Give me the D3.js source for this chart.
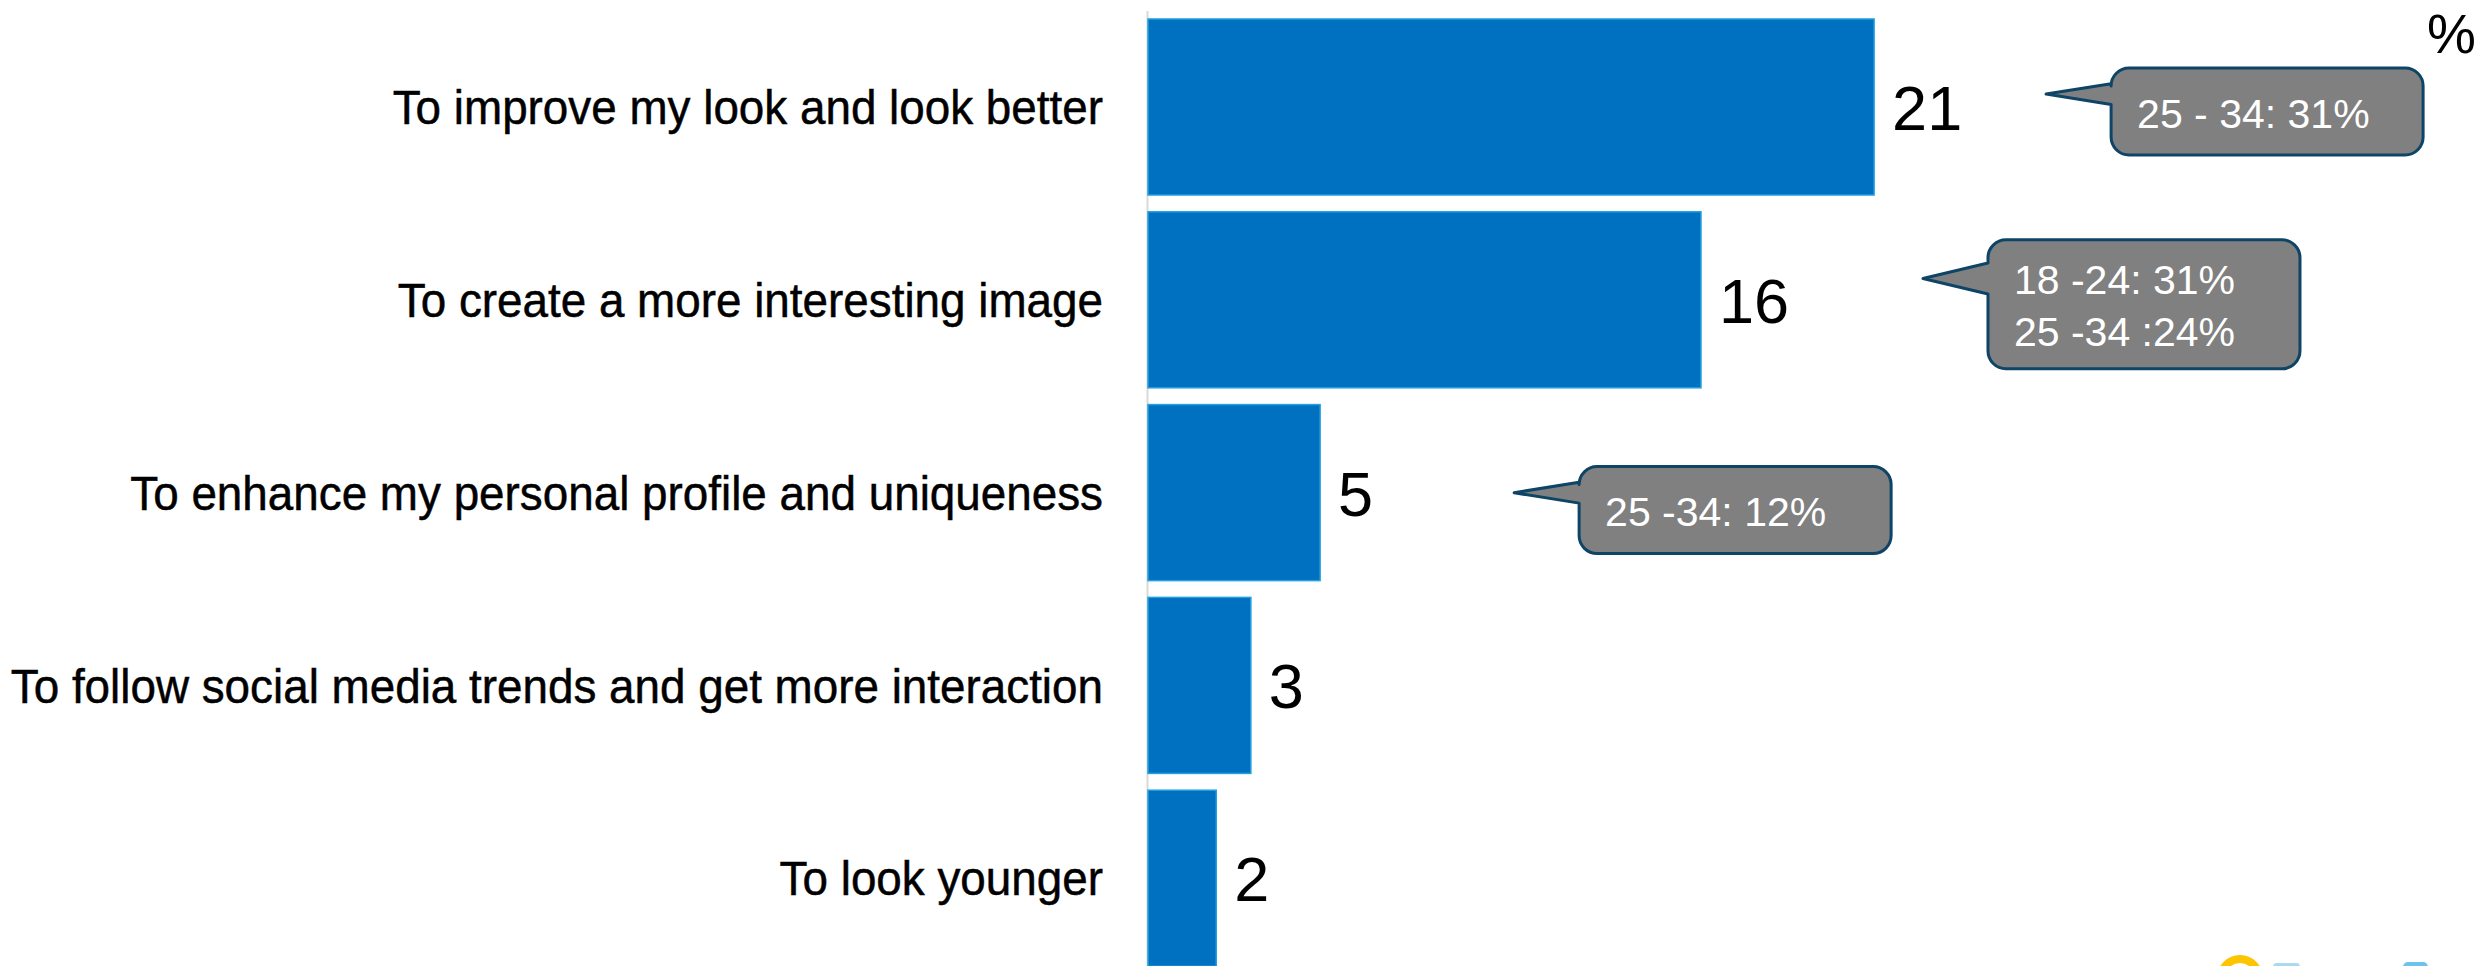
<!DOCTYPE html>
<html>
<head>
<meta charset="utf-8">
<script src="https://cdn.jsdelivr.net/npm/d3@7"></script>
<style>
  html, body { margin: 0; padding: 0; background: #ffffff; }
  svg { display: block; }
</style>
</head>
<body>
<svg id="chart" width="2481" height="966"></svg>
<script>
// Reasons for editing one's photos (%)
const categories = [
  "To improve my look and look better",
  "To create a more interesting image",
  "To enhance my personal profile and uniqueness",
  "To follow social media trends and get more interaction",
  "To look younger"
];
const values = [21, 16, 5, 3, 2];

// Age-group highlights shown in the speech bubbles
const calloutCategories = [
  "To improve my look and look better",
  "To create a more interesting image",
  "To enhance my personal profile and uniqueness"
];
const calloutLines = [
  ["25 - 34: 31%"],
  ["18 -24: 31%", "25 -34 :24%"],
  ["25 -34: 12%"]
];
const unitLabel = "%";

// ---- layout ----
const W = 2481, H = 966;
const svg = d3.select("#chart");
svg.append("rect").attr("width", W).attr("height", H).attr("fill", "#ffffff");

const y = d3.scaleBand()
  .domain(categories)
  .range([10.6, 974.6])
  .paddingInner(0.087)
  .paddingOuter(0.0435);

const x = d3.scaleLinear()
  .domain([0, 25])
  .range([1147, 2012.6]);

const FONT = "'Liberation Sans', Arial, sans-serif";

// vertical category axis line
const axis = svg.append("g")
  .attr("transform", `translate(${x(0)},0)`)
  .call(d3.axisLeft(y).tickSize(0).tickSizeOuter(0).tickFormat(""));
axis.select(".domain").attr("stroke", "#d9d9d9").attr("stroke-width", 2);

// bars
svg.append("g").selectAll("rect")
  .data(values)
  .join("rect")
  .attr("x", x(0) + 1)
  .attr("y", (d, i) => y(categories[i]))
  .attr("width", d => x(d) - x(0) - 1)
  .attr("height", y.bandwidth())
  .attr("fill", "#0070C0")
  .attr("stroke", "#22A0E0")
  .attr("stroke-width", 1.5);

// category labels (right-aligned, slightly condensed)
svg.append("g").selectAll("g")
  .data(categories)
  .join("g")
  .attr("transform", d => `translate(1103,${y(d) + y.bandwidth() / 2}) scale(0.935,1)`)
  .append("text")
  .attr("text-anchor", "end")
  .attr("dy", "0.35em")
  .attr("font-family", FONT)
  .attr("font-size", 49)
  .attr("fill", "#000000")
  .attr("stroke", "#000000")
  .attr("stroke-width", 0.5)
  .text(d => d);

// value labels
svg.append("g").selectAll("text")
  .data(values)
  .join("text")
  .attr("x", d => x(d) + 18)
  .attr("y", (d, i) => y(categories[i]) + y.bandwidth() / 2 + 23)
  .attr("font-family", FONT)
  .attr("font-size", 63)
  .attr("fill", "#000000")
  .text(d => d);

// unit marker
svg.append("text")
  .attr("x", 2476)
  .attr("y", 53)
  .attr("text-anchor", "end")
  .attr("font-family", FONT)
  .attr("font-size", 55)
  .attr("fill", "#000000")
  .text(unitLabel);

// speech-bubble callouts: box offset from bar end (dx) and from bar centre (dy)
const calloutPlacement = [
  { dx: 237, dy: -39 },
  { dx: 287, dy: -60 },
  { dx: 259, dy: -26 }
];
const BOX_W = 312, R = 18, TIP = 65;

function bubblePath(l, t, w, h) {
  const r = l + w, b = t + h;
  return [
    `M${l + R},${t}`,
    `H${r - R}`,
    `A${R},${R} 0 0 1 ${r},${t + R}`,
    `V${b - R}`,
    `A${R},${R} 0 0 1 ${r - R},${b}`,
    `H${l + R}`,
    `A${R},${R} 0 0 1 ${l},${b - R}`,
    `V${t + 0.42 * h}`,
    `L${l - TIP},${t + 0.3 * h}`,
    `L${l},${t + 0.18 * h}`,
    `V${t + R}`,
    `A${R},${R} 0 0 1 ${l + R},${t}`,
    "Z"
  ].join(" ");
}

svg.append("g").selectAll("g")
  .data(calloutCategories)
  .join("g")
  .each(function (cat, i) {
    const g = d3.select(this);
    const v = values[categories.indexOf(cat)];
    const lines = calloutLines[i];
    const h = 45 + 42 * lines.length;
    const left = x(v) + calloutPlacement[i].dx;
    const top = y(cat) + y.bandwidth() / 2 + calloutPlacement[i].dy;
    g.append("path")
      .attr("d", bubblePath(left, top, BOX_W, h))
      .attr("fill", "#808080")
      .attr("stroke", "#0E4466")
      .attr("stroke-width", 3)
      .attr("stroke-linejoin", "round");
    const firstBase = top + h / 2 - (lines.length - 1) * 26 + 16;
    g.selectAll("text")
      .data(lines)
      .join("text")
      .attr("x", left + 26)
      .attr("y", (d, k) => firstBase + k * 52)
      .attr("font-family", FONT)
      .attr("font-size", 41)
      .attr("fill", "#ffffff")
      .text(d => d);
  });

// brand mark peeking in at the bottom-right edge
const mark = svg.append("g");
mark.append("circle")
  .attr("cx", 2240).attr("cy", 978).attr("r", 19)
  .attr("fill", "none").attr("stroke", "#FFC400").attr("stroke-width", 8);
mark.append("rect")
  .attr("x", 2273).attr("y", 963).attr("width", 27).attr("height", 12).attr("rx", 4)
  .attr("fill", "#A9DAF2");
mark.append("rect")
  .attr("x", 2403).attr("y", 962).attr("width", 25).attr("height", 12).attr("rx", 5)
  .attr("fill", "#6CC3EC");
</script>
</body>
</html>
